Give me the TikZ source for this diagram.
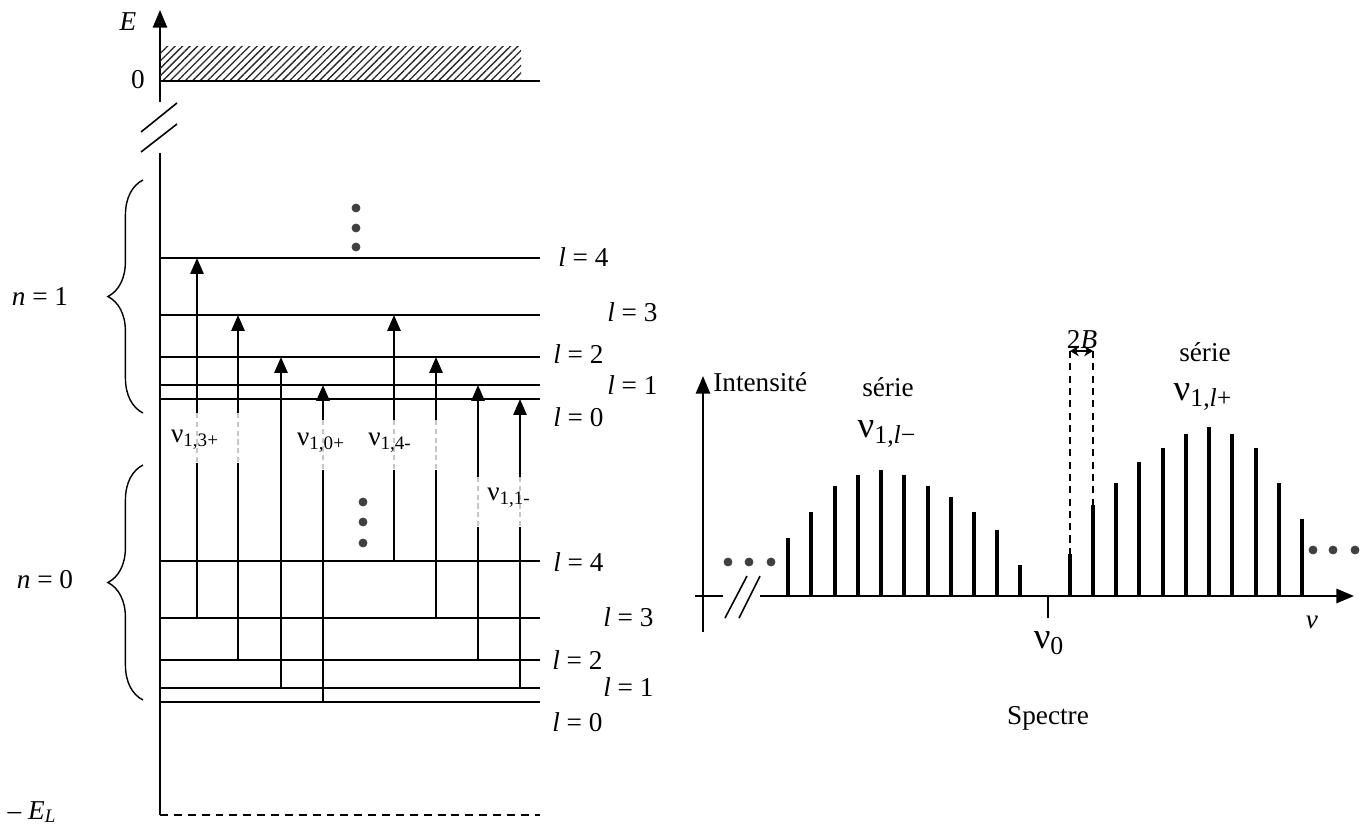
\documentclass[tikz,border=0pt]{standalone}
\usepackage{fontspec}
\setmainfont{Liberation Serif}
\usetikzlibrary{arrows.meta,patterns.meta,decorations.pathreplacing}

\tikzset{
  axe/.style={line width=1.4pt},
  niveau/.style={line width=1pt},
  trans/.style={line width=1.1pt,-{Triangle[length=9pt,width=7.5pt]}},
  raie/.style={line width=2pt},
  coupure/.style={preaction={draw=white,line width=2.5pt},draw=gray!45,densely dashed,line width=0.6pt},
  lab/.style={font=\fontsize{15.5}{18}\selectfont,inner sep=0pt},
  grand/.style={font=\fontsize{21}{24}\selectfont,inner sep=0pt},
  accol/.style={decorate,decoration={brace,amplitude=20pt},line width=0.8pt},
}
\newcommand{\nusub}[1]{ν\textsubscript{#1}}

\begin{document}
\begin{tikzpicture}[x=0.02cm,y=-0.02cm]
		\useasboundingbox (0,0) rectangle (1369,825);
		
		% axe des energies, avec coupure
		\draw[axe,-{Triangle[length=10pt,width=8pt]}] (160,102) -- (160,10);
		\draw[axe] (160,153) -- (160,815);
		\draw[line width=0.9pt] (141,132) -- (177,103);
		\draw[line width=0.9pt] (141,152) -- (177,124);
		\node[lab] (E) at (128,22) {\textit{E}};
		\node[lab] (zero) at (138,80) {0};
		
		% continuum
		\fill[pattern={Lines[angle=45,distance=3pt,line width=0.75pt]},pattern color=black!85] (160,46) rectangle (521,81);
		\draw[niveau] (160,81) -- (540,81);
		
		% niveaux n=1 et n=0
		\foreach \y/\l/\lx/\ly in {258/4/558/257, 315/3/607/312, 357/2/553/354, 385/1/607/385, 399/0/553/417,
		                           561/4/553/562, 618/3/603/617, 660/2/552/660, 688/1/603/687, 702/0/552/722}
		{
			\draw[niveau] (160,\y) -- (540,\y);
			\node[lab,anchor=west] at (\lx,\ly) {\textit{l} = \l};
		}
		
		% transitions
		\foreach \x/\a/\b in {197/618/258, 238/660/315, 281/688/357, 323/702/385,
		                      394/561/315, 436/618/357, 478/660/385, 520/688/399}
			\draw[trans] (\x,\a) -- (\x,\b);
		\foreach \x/\a/\b in {197/413/463, 238/413/463, 323/420/470, 394/420/470,
		                      436/420/470, 478/477/527, 520/477/527}
			\draw[coupure] (\x,\a) -- (\x,\b);
		
		\node[lab] (nu13) at (195,440) {\nusub{1,3+}};
		\node[lab] (nu10) at (321,443) {\nusub{1,0+}};
		\node[lab] (nu14) at (390,443) {\nusub{1,4-}};
		\node[lab] (nu11) at (509,498) {\nusub{1,1-}};
		
		\filldraw[black!75] (356,208) circle (2.3pt);
		\filldraw[black!75] (356,228) circle (2.3pt);
		\filldraw[black!75] (356,247) circle (2.3pt);
		\filldraw[black!75] (363,502) circle (2.3pt);
		\filldraw[black!75] (363,522) circle (2.3pt);
		\filldraw[black!75] (363,543) circle (2.3pt);
		
		% accolades
		\draw[accol] (143,413) -- (143,180);
		\draw[accol] (143,700) -- (143,465);
		\node[lab] (n1) at (40,297) {\textit{n} = 1};
		\node[lab] (n0) at (45,580) {\textit{n} = 0};
		
		\draw[niveau,dash pattern=on 4.5pt off 3.4pt] (160,815) -- (540,815);
		\node[lab] (EL) at (32,812) {– \textit{E}\textsubscript{\textit{L}}};
		
		% spectre
		\draw[axe,-{Triangle[length=10pt,width=8pt]}] (703,632) -- (703,376);
		\draw[axe] (695,596) -- (723,596);
		\draw[axe,-{Triangle[length=10pt,width=8pt]}] (760,596) -- (1354,596);
		\draw[line width=0.9pt] (725,618) -- (747,576);
		\draw[line width=0.9pt] (739,618) -- (760,576);
		\node[lab,anchor=west] (I) at (713,382) {Intensité};
		
		\foreach \x/\h in {788/538, 811/512, 835/486, 858/475, 881/470, 904/475,
		                   928/486, 951/497, 974/512, 997/530, 1020/565}
			\draw[raie] (\x,596) -- (\x,\h);
		\foreach \x/\h in {1070/554, 1093/505, 1116/483, 1139/462, 1163/448, 1186/434,
		                   1209/427, 1232/434, 1256/448, 1279/483, 1302/519}
			\draw[raie] (\x,596) -- (\x,\h);
		
		\draw[niveau] (1048,596) -- (1048,618);
		\node[grand] (nu0) at (1049,643) {ν\textsubscript{0}};
		\node[lab] (nu) at (1312,622) {\textit{ν}};
		
		\foreach \x in {728,749,771}
			\filldraw[black!75] (\x,562) circle (2.3pt);
		\foreach \x in {1313,1333,1355}
			\filldraw[black!75] (\x,550) circle (2.3pt);
		
		% ecart 2B
		\coordinate (d1) at (1070,351);
		\coordinate (d2) at (1093,351);
		\draw[niveau,dash pattern=on 4pt off 3pt] (d1) -- (1070,554);
		\draw[niveau,dash pattern=on 4pt off 3pt] (d2) -- (1093,505);
		\draw[line width=0.8pt,{Stealth[length=5pt,width=6pt]}-{Stealth[length=5pt,width=6pt]}] (d1) -- (d2);
		\node[lab] (B) at (1082,340) {2\textit{B}};
		
		\node[lab] (sm) at (888,387) {série};
		\node[grand] (num) at (887,434) {ν\textsubscript{1,\textit{l}−}};
		\node[lab] (sp) at (1205,352) {série};
		\node[grand] (nup) at (1203,397) {ν\textsubscript{1,\textit{l}+}};
		\node[lab] (spec) at (1048,718) {Spectre};
\end{tikzpicture}
\end{document}
